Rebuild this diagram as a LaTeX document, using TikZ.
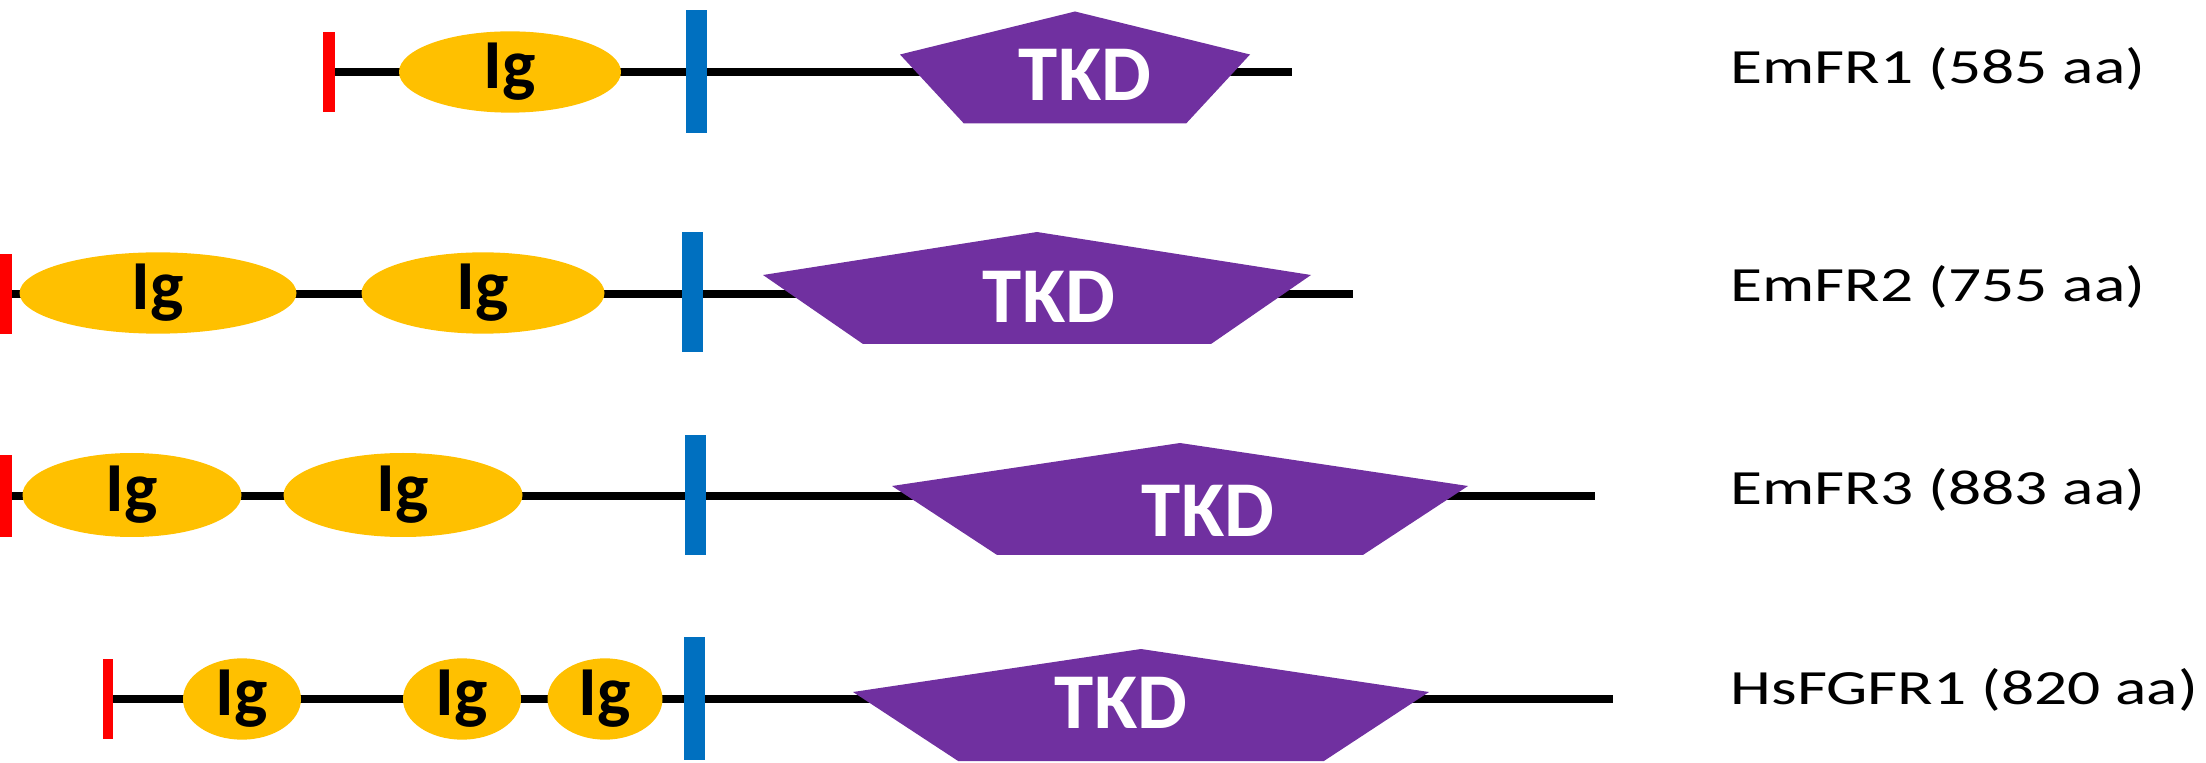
\documentclass[tikz,border=0pt]{standalone}
\usepackage{fontspec}
\setmainfont{Carlito}
\newfontfamily\namefont[FakeStretch=1.33]{Carlito}
\usetikzlibrary{shapes.geometric,backgrounds}
\definecolor{igyellow}{HTML}{FFC000}
\definecolor{tkdpurple}{HTML}{7030A0}
\definecolor{tmblue}{HTML}{0070C0}
\tikzstyle{backbone} = [line width=2.1pt, draw=black]
\tikzstyle{sigpep} = [rectangle, fill=red, inner sep=0pt, minimum width=0.12cm, minimum height=0.8cm]
\tikzstyle{tmbar} = [rectangle, fill=tmblue, inner sep=0pt, minimum width=0.21cm, minimum height=1.22cm]
\tikzset{
  igdom/.style={
    ellipse,
    fill=igyellow,
    inner sep=0pt,
    minimum height=0.8cm, % same height in every row
    font=\fontsize{20}{20}\selectfont\bfseries
  }
}
\tikzstyle{tkdtext} = [text=white, inner sep=0pt, font=\fontsize{22.5}{22.5}\selectfont\bfseries]
\tikzstyle{protname} = [anchor=west, inner sep=0pt, font=\namefont\fontsize{14}{14}\selectfont]
% pentagon: centre x, centre y, half width
\newcommand{\tkdpent}[3]{%
  \fill[tkdpurple] (#1,#2+0.62) -- (#1+#3,#2+0.19) -- (#1+0.635*#3,#2-0.50)
    -- (#1-0.635*#3,#2-0.50) -- (#1-#3,#2+0.19) -- cycle;}

\begin{document}
\begin{tikzpicture}
  \useasboundingbox (0,0) rectangle (22.06,7.62);

  % EmFR1
  \node (sp1)[sigpep] at (3.29,6.90) {};
  \node (ig11)[igdom, minimum width=2.22cm] at (5.10,6.90) {Ig};
  \node (tm1)[tmbar, minimum height=1.23cm] at (6.96,6.90) {};
  \tkdpent{10.75}{6.885}{1.75}
  \node (tkd1)[tkdtext] at (10.85,6.87) {TKD};
  \coordinate (end1) at (12.92,6.90);
  \node (n1)[protname] at (17.30,6.93) {EmFR1 (585 aa)};

  % EmFR2
  \node (sp2)[sigpep] at (0.06,4.68) {};
  \node (ig21)[igdom, minimum width=2.77cm] at (1.58,4.69) {Ig};
  \node (ig22)[igdom, minimum width=2.43cm] at (4.83,4.69) {Ig};
  \node (tm2)[tmbar, minimum height=1.20cm] at (6.92,4.70) {};
  \tkdpent{10.37}{4.68}{2.74}
  \node (tkd2)[tkdtext] at (10.49,4.65) {TKD};
  \coordinate (end2) at (13.53,4.68);
  \node (n2)[protname] at (17.30,4.75) {EmFR2 (755 aa)};

  % EmFR3
  \node (sp3)[sigpep, minimum height=0.82cm] at (0.06,2.66) {};
  \node (ig31)[igdom, minimum width=2.19cm, minimum height=0.84cm] at (1.32,2.67) {Ig};
  \node (ig32)[igdom, minimum width=2.39cm, minimum height=0.84cm] at (4.03,2.67) {Ig};
  \node (tm3)[tmbar, minimum height=1.20cm] at (6.95,2.67) {};
  \tkdpent{11.80}{2.57}{2.88}
  \node (tkd3)[tkdtext] at (12.08,2.51) {TKD};
  \coordinate (end3) at (15.95,2.66);
  \node (n3)[protname] at (17.30,2.72) {EmFR3 (883 aa)};

  % HsFGFR1
  \node (sp4)[sigpep, minimum width=0.10cm] at (1.08,0.63) {};
  \node (ig41)[igdom, minimum width=1.18cm] at (2.42,0.63) {Ig};
  \node (ig42)[igdom, minimum width=1.18cm] at (4.62,0.63) {Ig};
  \node (ig43)[igdom, minimum width=1.15cm] at (6.05,0.63) {Ig};
  \node (tm4)[tmbar, minimum height=1.23cm] at (6.94,0.635) {};
  \tkdpent{11.41}{0.51}{2.88}
  \node (tkd4)[tkdtext] at (11.21,0.59) {TKD};
  \coordinate (end4) at (16.13,0.63);
  \node (n4)[protname] at (17.30,0.72) {HsFGFR1 (820 aa)};

  \begin{scope}[on background layer]
    \draw[backbone] (sp1.center) -- (end1);
    \draw[backbone] (sp2.center) -- (end2);
    \draw[backbone] (sp3.center) -- (end3);
    \draw[backbone] (sp4.center) -- (end4);
  \end{scope}
\end{tikzpicture}
\end{document}
